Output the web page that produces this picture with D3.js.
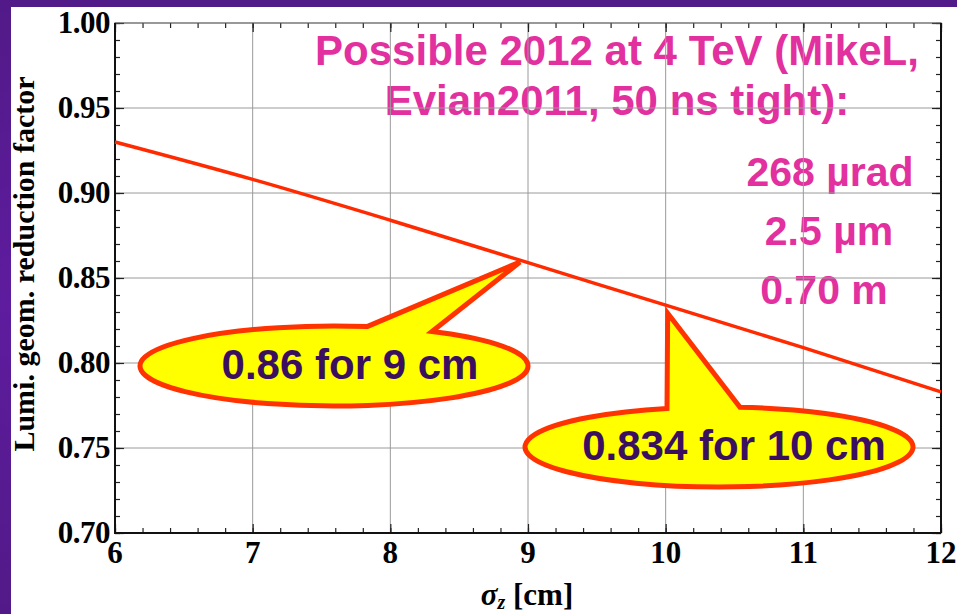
<!DOCTYPE html>
<html><head><meta charset="utf-8">
<script src="https://cdn.jsdelivr.net/npm/d3@7"></script>
<style>html,body{margin:0;padding:0;background:#fff;overflow:hidden}</style>
</head><body>
<svg id="c" width="957" height="614"></svg>
<script>
// ---- data ----
const sigmaZ = [6, 7, 8, 9, 10, 11, 12];
const reduction = [0.930, 0.908, 0.884, 0.859, 0.834, 0.809, 0.783];
const xTicks = [6, 7, 8, 9, 10, 11, 12];
const yTicks = [0.70, 0.75, 0.80, 0.85, 0.90, 0.95, 1.00];
const infoLines = ["Possible 2012 at 4 TeV (MikeL,", "Evian2011, 50 ns tight):"];
const paramLines = ["268 \u00b5rad", "2.5 \u00b5m", "0.70 m"];
const callouts = [
  {x: 9, y: 0.86, label: "0.86 for 9 cm"},
  {x: 10, y: 0.834, label: "0.834 for 10 cm"}
];

const svg = d3.select("#c");
const W = 957, H = 614;
const L = 115, R = 941, T = 23, B = 533;
const x = d3.scaleLinear().domain([6, 12]).range([L, R]);
const y = d3.scaleLinear().domain([0.70, 1.00]).range([B, T]);

// frame (purple)
svg.append("rect").attr("x",0).attr("y",0).attr("width",W).attr("height",H).attr("fill","#fff");
svg.append("rect").attr("x",0).attr("y",0).attr("width",W).attr("height",7).attr("fill","#521a88");
const lg = svg.append("defs").append("linearGradient").attr("id","lg").attr("x1",0).attr("y1",0).attr("x2",0).attr("y2",1);
lg.append("stop").attr("offset","0").attr("stop-color","#521a88");
lg.append("stop").attr("offset","0.5").attr("stop-color","#5e1c9e");
lg.append("stop").attr("offset","1").attr("stop-color","#521a88");
svg.append("rect").attr("x",0).attr("y",0).attr("width",11).attr("height",H).attr("fill","url(#lg)");

// magenta info text (below grid)
const mag = "#e2309f";
const info = svg.append("g").attr("font-family","Liberation Sans, Arial, sans-serif").attr("font-weight","bold").attr("fill",mag);
info.selectAll("text.l").data(infoLines).join("text")
  .attr("x", 617).attr("y", (d,i)=>65 + i*50).attr("text-anchor","middle").attr("font-size",42).text(d=>d);
info.selectAll("text.p").data(paramLines).join("text")
  .attr("x", (d,i)=>[830,829,824][i]).attr("y", (d,i)=>[186,245,304][i]).attr("text-anchor","middle").attr("font-size",41).text(d=>d);

// grid
const grid = svg.append("g").attr("stroke","#9a9a9a").attr("stroke-width",1);
grid.selectAll("line.gx").data(xTicks.slice(1,-1)).join("line")
  .attr("x1",d=>x(d)).attr("x2",d=>x(d)).attr("y1",T).attr("y2",B);
grid.selectAll("line.gy").data(yTicks.slice(1,-1)).join("line")
  .attr("y1",d=>y(d)).attr("y2",d=>y(d)).attr("x1",L).attr("x2",R);

// axes
const xMinor = d3.range(6, 12.0001, 0.2);
const yMinor = d3.range(0.70, 1.00001, 0.01);
function styleAxis(g){ g.select(".domain").remove(); g.selectAll("line").attr("stroke","#222").attr("stroke-width",1.2); }
svg.append("g").attr("transform",`translate(0,${B})`).call(d3.axisBottom(x).tickValues(xMinor).tickSize(-5).tickFormat("")).call(styleAxis);
svg.append("g").attr("transform",`translate(0,${T})`).call(d3.axisTop(x).tickValues(xMinor).tickSize(-5).tickFormat("")).call(styleAxis);
svg.append("g").attr("transform",`translate(${L},0)`).call(d3.axisLeft(y).tickValues(yMinor).tickSize(-5).tickFormat("")).call(styleAxis);
svg.append("g").attr("transform",`translate(${R},0)`).call(d3.axisRight(y).tickValues(yMinor).tickSize(-5).tickFormat("")).call(styleAxis);
svg.append("g").attr("transform",`translate(0,${B})`).call(d3.axisBottom(x).tickValues(xTicks).tickSize(-9).tickFormat("")).call(styleAxis);
svg.append("g").attr("transform",`translate(0,${T})`).call(d3.axisTop(x).tickValues(xTicks).tickSize(-9).tickFormat("")).call(styleAxis);
svg.append("g").attr("transform",`translate(${L},0)`).call(d3.axisLeft(y).tickValues(yTicks).tickSize(-9).tickFormat("")).call(styleAxis);
svg.append("g").attr("transform",`translate(${R},0)`).call(d3.axisRight(y).tickValues(yTicks).tickSize(-9).tickFormat("")).call(styleAxis);

// frame lines
svg.append("rect").attr("x",L).attr("y",T).attr("width",R-L).attr("height",B-T)
  .attr("fill","none").attr("stroke","#555").attr("stroke-width",1.2);
svg.append("line").attr("x1",L).attr("x2",L).attr("y1",T).attr("y2",B+1).attr("stroke","#111").attr("stroke-width",2);
svg.append("line").attr("x1",L-1).attr("x2",R).attr("y1",B).attr("y2",B).attr("stroke","#111").attr("stroke-width",2);
svg.append("line").attr("x1",R).attr("x2",R).attr("y1",T).attr("y2",B).attr("stroke","#111").attr("stroke-width",2);

// tick labels
const tf = "Liberation Serif, Times New Roman, serif";
svg.append("g").selectAll("text").data(xTicks).join("text")
  .attr("x",d=>x(d)).attr("y",563).attr("text-anchor","middle")
  .attr("font-family",tf).attr("font-weight","bold").attr("font-size",31).attr("fill","#000")
  .text(d=>d);
svg.append("g").selectAll("text").data(yTicks).join("text")
  .attr("x",110).attr("y",d=>y(d)+10).attr("text-anchor","end")
  .attr("font-family",tf).attr("font-weight","bold").attr("font-size",31).attr("fill","#000")
  .attr("letter-spacing",-0.5)
  .text(d=>d.toFixed(2));

// axis titles
svg.append("text").attr("transform","translate(34,264) rotate(-90)").attr("text-anchor","middle")
  .attr("font-family",tf).attr("font-weight","bold").attr("font-size",30).attr("fill","#000")
  .text("Lumi. geom. reduction factor");
const xt = svg.append("text").attr("x",527).attr("y",605).attr("text-anchor","middle")
  .attr("font-family",tf).attr("font-weight","bold").attr("font-size",31).attr("fill","#000");
xt.append("tspan").attr("font-style","italic").text("\u03c3");
xt.append("tspan").attr("font-style","italic").attr("font-size",20).attr("dy",4).text("z");
xt.append("tspan").attr("dy",-4).text(" [cm]");

// curve
const line = d3.line().x((d,i)=>x(sigmaZ[i])).y(d=>y(d)).curve(d3.curveMonotoneX);
svg.append("path").datum(reduction).attr("d",line).attr("fill","none")
  .attr("stroke","#ff2a00").attr("stroke-width",3.5);

// callouts
const calloutGeom = [
  {cx: 334, cy: 366, rx: 194, ry: 40, b1: 367, b2: 432, tip: [-8, 1], tx: 350, ty: 379},
  {cx: 719, cy: 447, rx: 194, ry: 40, b1: 667, b2: 740, tip: [2, 8], tx: 734, ty: 460}
];
callouts.forEach((c, i) => {
  const g = calloutGeom[i];
  const ey = xx => g.cy - g.ry * Math.sqrt(1 - ((xx - g.cx) / g.rx) ** 2);
  const tipX = x(c.x) + g.tip[0], tipY = y(c.y) + g.tip[1];
  const p = d3.path();
  p.moveTo(g.b1, ey(g.b1));
  p.lineTo(tipX, tipY);
  p.lineTo(g.b2, ey(g.b2));
  const d = p.toString() + ` A ${g.rx} ${g.ry} 0 1 1 ${g.b1} ${ey(g.b1)} Z`;
  svg.append("path").attr("d", d).attr("fill","#ffff00").attr("stroke","#ff3300")
    .attr("stroke-width",5).attr("stroke-linejoin","miter");
  svg.append("text").attr("x", g.tx).attr("y", g.ty).attr("text-anchor","middle")
    .attr("font-family","Liberation Sans, Arial, sans-serif").attr("font-weight","bold")
    .attr("font-size",42).attr("fill","#3b0f5f").text(c.label);
});
</script>
</body></html>
